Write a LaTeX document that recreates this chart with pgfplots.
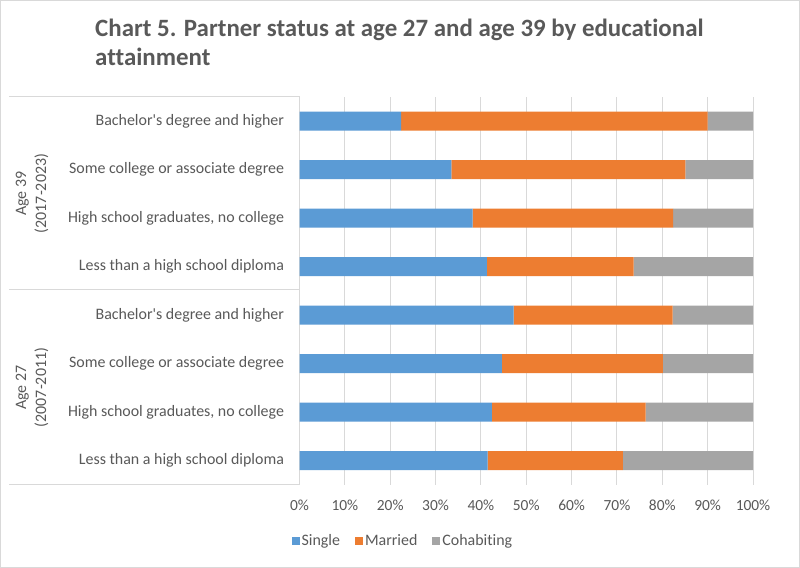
\documentclass[border=0pt]{standalone}
\usepackage{pgfplots}
\pgfplotsset{compat=1.18}
\usepackage{fontspec}
\setmainfont{Carlito}[Ligatures={TeX,NoCommon}]
\definecolor{cblue}{HTML}{5B9BD5}
\definecolor{corange}{HTML}{ED7D31}
\definecolor{cgray}{HTML}{A5A5A5}
\definecolor{txt}{HTML}{595959}
\definecolor{gridc}{HTML}{D9D9D9}
\begin{document}
\begin{tikzpicture}[x=1bp,y=1bp]
\draw[gridc, fill=white, line width=1bp] (0.5,0.5) rectangle (799.5,567.5);
\node[anchor=base west, inner sep=0pt, text=txt, font=\fontsize{25}{30}\selectfont\bfseries, align=left] at (95,531) {Chart 5. Partner status at age 27 and age 39 by educational};
\node[anchor=base west, inner sep=0pt, text=txt, font=\fontsize{25}{30}\selectfont\bfseries, align=left] at (95,502) {attainment};
\begin{axis}[
  at={(299.5bp,83bp)}, anchor=south west,
  scale only axis, width=453.5bp, height=388bp,
  xbar stacked, bar width=19bp,
  xmin=0, xmax=100, ymin=0.5, ymax=8.5,
  axis line style={draw=none},
  xmajorgrids, grid style={gridc, line width=1bp},
  major tick length=0pt,
  xtick={0,10,...,100},
  xticklabel={\pgfmathprintnumber{\tick}\%},
  ytick={1,...,8},
  yticklabels={Less than a high school diploma, {High school graduates, no college}, Some college or associate degree, Bachelor\textquotesingle s degree and higher, Less than a high school diploma, {High school graduates, no college}, Some college or associate degree, Bachelor\textquotesingle s degree and higher},
  yticklabel style={anchor=east, xshift=-12bp, font=\fontsize{16}{19}\selectfont, text=txt},
  xticklabel style={font=\fontsize{15.5}{18}\selectfont, text=txt, yshift=-11bp},
  /pgf/number format/assume math mode=true,
  legend columns=3,
  legend style={at={(0.228,-0.144)}, anchor=center, draw=none, font=\fontsize{16}{19}\selectfont, text=txt,
    /tikz/every even column/.append style={column sep=13bp}},
  legend image code/.code={\fill[#1] (0bp,-4bp) rectangle (8bp,4bp);},
  clip=false,
]
\addplot[fill=cblue, draw=none] coordinates {(41.5,1) (42.4,2) (44.6,3) (47.2,4) (41.3,5) (38.2,6) (33.5,7) (22.4,8)};
\addplot[fill=corange, draw=none] coordinates {(29.8,1) (33.9,2) (35.5,3) (35.1,4) (32.4,5) (44.2,6) (51.6,7) (67.6,8)};
\addplot[fill=cgray, draw=none] coordinates {(28.7,1) (23.7,2) (19.9,3) (17.7,4) (26.3,5) (17.6,6) (14.9,7) (10.0,8)};
\legend{Single, Married, Cohabiting}
\draw[gridc, line width=1bp] (axis cs:0,0.5) -- (axis cs:0,8.5);
\end{axis}
\draw[gridc, line width=1bp] (9,471) -- (299.5,471);
\draw[gridc, line width=1bp] (9,278) -- (299.5,278);
\draw[gridc, line width=1bp] (9,83) -- (299.5,83);
\node[rotate=90, align=center, text=txt, font=\fontsize{16}{20}\selectfont] at (32,374.5) {Age 39\\(2017-2023)};
\node[rotate=90, align=center, text=txt, font=\fontsize{16}{20}\selectfont] at (32,180.5) {Age 27\\(2007-2011)};
\end{tikzpicture}
\end{document}
